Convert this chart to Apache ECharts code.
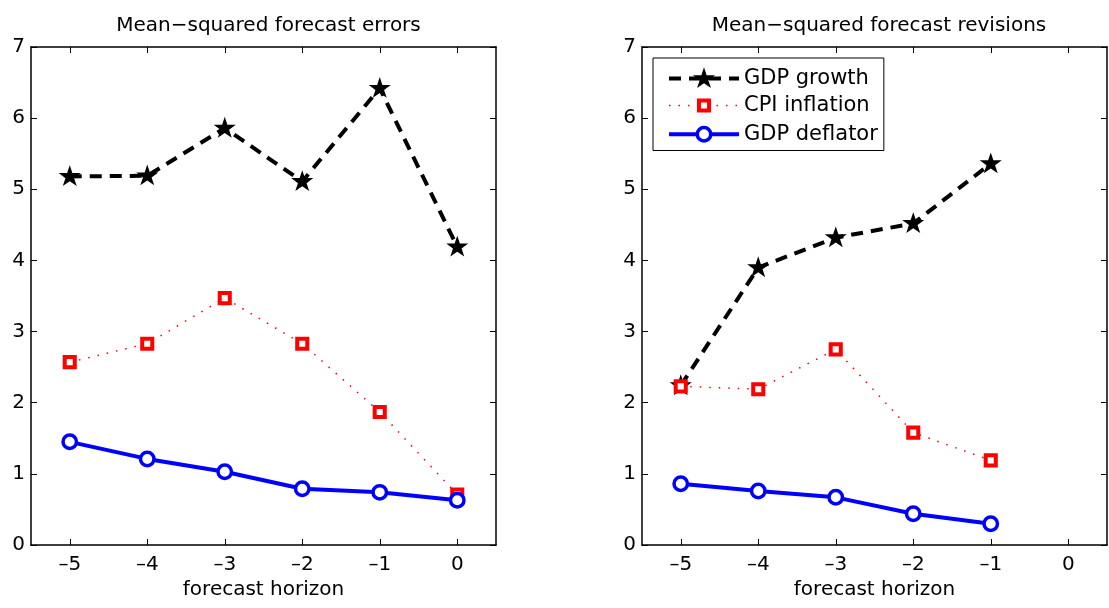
<!DOCTYPE html>
<html>
<head>
<meta charset="utf-8">
<script src="https://cdn.jsdelivr.net/npm/echarts@6/dist/echarts.min.js"></script>
<style>
html,body{margin:0;padding:0;background:#fff;}
#chart{width:1109px;height:608px;}
</style>
</head>
<body>
<div id="chart"></div>
<script>
// ---- data ----
const horizonsErrors = [-5, -4, -3, -2, -1, 0];
const horizonsRevisions = [-5, -4, -3, -2, -1];
const xTickValues = [-5, -4, -3, -2, -1, 0];
const yTickValues = [0, 1, 2, 3, 4, 5, 6, 7];
const seriesNames = ['GDP growth', 'CPI inflation', 'GDP deflator'];
const titles = ['Mean\u2212squared forecast errors', 'Mean\u2212squared forecast revisions'];
const xAxisName = 'forecast horizon';

const errGDP = [5.18, 5.19, 5.86, 5.11, 6.42, 4.19];
const errCPI = [2.57, 2.83, 3.47, 2.83, 1.87, 0.71];
const errDefl = [1.45, 1.21, 1.03, 0.79, 0.74, 0.63];

const revGDP = [2.24, 3.90, 4.32, 4.52, 5.36];
const revCPI = [2.23, 2.19, 2.75, 1.58, 1.19];
const revDefl = [0.86, 0.76, 0.67, 0.44, 0.30];

// ---- chart ----
const FONT = 'DejaVu Sans';
// symbols padded to a common 100x100 box so legend and plot share sizes
const starPath = 'path://M0,0 M100,100 M50,3 L61,36 L96,36 L68,57 L79,90 L50,70 L21,90 L32,57 L4,36 L39,36 Z';
const squarePath = 'path://M0,0 M100,100 M29,29 L71,29 L71,71 L29,71 Z';
const circlePath = 'path://M0,0 M100,100 M78,50 A28,28 0 1,1 22,50 A28,28 0 1,1 78,50 Z';
const SYM = 24;
const pairs = (xs, ys) => xs.map((x, i) => [x, ys[i]]);
const fmt = v => (v < 0 ? '\u2013' + Math.abs(v) : String(v));

const grids = [
  {left: 31, top: 47, width: 465, height: 498},
  {left: 642, top: 47, width: 465, height: 498}
];

const xAxes = [], yAxes = [];
grids.forEach((g, gi) => {
  xAxes.push({
    type: 'value', gridIndex: gi, position: 'bottom', min: -5.5, max: 0.5,
    name: xAxisName, nameLocation: 'middle', nameGap: 35,
    nameTextStyle: {fontFamily: FONT, fontSize: 20, color: '#000'},
    axisLine: {show: true, onZero: false, lineStyle: {color: '#000', width: 1.5}},
    axisTick: {show: true, inside: true, length: 6, customValues: xTickValues, lineStyle: {color: '#000', width: 1}},
    axisLabel: {show: true, customValues: xTickValues, formatter: fmt, margin: 10, fontFamily: FONT, fontSize: 20, color: '#000'},
    splitLine: {show: false}
  });
  xAxes.push({
    type: 'value', gridIndex: gi, position: 'top', min: -5.5, max: 0.5,
    axisLine: {show: true, onZero: false, lineStyle: {color: '#000', width: 1.5}},
    axisTick: {show: true, inside: true, length: 6, customValues: xTickValues, lineStyle: {color: '#000', width: 1}},
    axisLabel: {show: false},
    splitLine: {show: false}
  });
  yAxes.push({
    type: 'value', gridIndex: gi, position: 'left', min: 0, max: 7, interval: 1,
    axisLine: {show: true, onZero: false, lineStyle: {color: '#000', width: 1.5}},
    axisTick: {show: true, inside: true, length: 6, lineStyle: {color: '#000', width: 1}},
    axisLabel: {show: true, margin: 6, fontFamily: FONT, fontSize: 20, color: '#000'},
    splitLine: {show: false}
  });
  yAxes.push({
    type: 'value', gridIndex: gi, position: 'right', min: 0, max: 7, interval: 1,
    axisLine: {show: true, onZero: false, lineStyle: {color: '#000', width: 1.5}},
    axisTick: {show: true, inside: true, length: 6, lineStyle: {color: '#000', width: 1}},
    axisLabel: {show: false},
    splitLine: {show: false}
  });
});

function gdpSeries(data, gi) {
  return {
    name: seriesNames[0], type: 'line', xAxisIndex: gi * 2, yAxisIndex: gi * 2,
    data: data, symbol: starPath, symbolSize: SYM, showSymbol: true,
    lineStyle: {color: '#000', width: 4, type: [12, 8]},
    itemStyle: {color: '#000', borderWidth: 0},
    emphasis: {disabled: true}, animation: false, z: 2
  };
}
function cpiSeries(data, gi) {
  return {
    name: seriesNames[1], type: 'line', xAxisIndex: gi * 2, yAxisIndex: gi * 2,
    data: data, symbol: squarePath, symbolSize: SYM, showSymbol: true,
    lineStyle: {color: '#ff0000', width: 1.5, type: [1.5, 8]},
    itemStyle: {color: '#fff', borderColor: '#ff0000', borderWidth: 4},
    emphasis: {disabled: true}, animation: false, z: 3
  };
}
function deflSeries(data, gi) {
  return {
    name: seriesNames[2], type: 'line', xAxisIndex: gi * 2, yAxisIndex: gi * 2,
    data: data, symbol: circlePath, symbolSize: SYM, showSymbol: true,
    lineStyle: {color: '#0000ff', width: 4, type: 'solid'},
    itemStyle: {color: '#fff', borderColor: '#0000ff', borderWidth: 3.5},
    emphasis: {disabled: true}, animation: false, z: 4
  };
}

const series = [
  gdpSeries(pairs(horizonsErrors, errGDP), 0),
  cpiSeries(pairs(horizonsErrors, errCPI), 0),
  deflSeries(pairs(horizonsErrors, errDefl), 0),
  gdpSeries(pairs(horizonsRevisions, revGDP), 1),
  cpiSeries(pairs(horizonsRevisions, revCPI), 1),
  deflSeries(pairs(horizonsRevisions, revDefl), 1)
];

const chart = echarts.init(document.getElementById('chart'), null, {renderer: 'canvas'});
chart.setOption({
  animation: false,
  backgroundColor: '#fff',
  title: [
    {text: titles[0], left: 263.5, top: 11, textAlign: 'center', textStyle: {fontFamily: FONT, fontSize: 20, fontWeight: 'normal', color: '#000'}},
    {text: titles[1], left: 874, top: 11, textAlign: 'center', textStyle: {fontFamily: FONT, fontSize: 20, fontWeight: 'normal', color: '#000'}}
  ],
  legend: {
    data: [
      {name: seriesNames[0], lineStyle: {width: 4}, itemStyle: {borderWidth: 0}},
      {name: seriesNames[1], lineStyle: {width: 1.5}, itemStyle: {borderWidth: 4}},
      {name: seriesNames[2], lineStyle: {width: 4}, itemStyle: {borderWidth: 3.5}}
    ],
    orient: 'vertical', left: 653, top: 58,
    padding: [8.5, 6, 2.5, 14],
    itemWidth: 70, itemHeight: SYM / 0.8, itemGap: 1,
    backgroundColor: '#fff', borderColor: '#000', borderWidth: 1, borderRadius: 0,
    textStyle: {fontFamily: FONT, fontSize: 21, color: '#000', lineHeight: 22},
    selectedMode: false
  },
  grid: grids,
  xAxis: xAxes,
  yAxis: yAxes,
  series: series
});
</script>
</body>
</html>
